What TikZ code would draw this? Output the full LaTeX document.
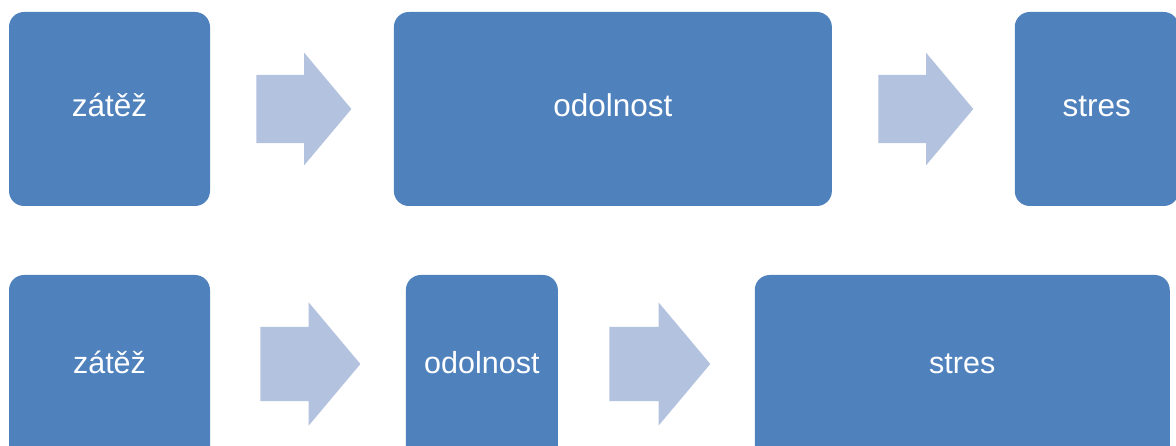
\documentclass[tikz,border=0pt]{standalone}
\usepackage{fontspec}
\setmainfont{Liberation Sans}
\usetikzlibrary{shapes.arrows, positioning}
\definecolor{boxblue}{RGB}{79,129,189}
\definecolor{arrowblue}{RGB}{179,194,222}
\tikzset{
  block/.style={rectangle, fill=boxblue, draw=none, rounded corners=15pt,
                minimum height=194pt, inner sep=0pt, text=white,
                text height=22pt, text depth=6pt,
                font=\fontsize{31.5}{36}\selectfont},
  lowblock/.style={block, minimum height=186pt,
                   text height=19pt, text depth=9pt,
                   font=\fontsize{30.5}{35}\selectfont},
  fatarrow/.style={single arrow, fill=arrowblue, draw=none,
                   inner xsep=0pt, inner ysep=34pt,
                   minimum height=95pt, single arrow tip angle=100,
                   single arrow head extend=22pt}
}
\begin{document}
\begin{tikzpicture}[x=1pt, y=1pt]
  \useasboundingbox (0,0) rectangle (1176,445);
  \clip (0,0) rectangle (1176,445);

  % first row
  \node[block, minimum width=201pt] (load1) at (109.5,336) {zátěž};
  \node[fatarrow, right=46pt of load1] (arr1) {};
  \node[block, minimum width=438pt, right=42pt of arr1] (res1) {odolnost};
  \node[fatarrow, right=46pt of res1] (arr2) {};
  \node[block, minimum width=164pt, right=41pt of arr2] (stress1) {stres};

  % second row
  \node[lowblock, minimum width=201pt] (load2) at (109.5,77) {zátěž};
  \node[fatarrow, minimum height=100pt, inner ysep=37pt,
        single arrow head extend=24.5pt, right=50pt of load2, yshift=4pt] (arr3) {};
  \node[lowblock, minimum width=152pt, right=45pt of arr3, yshift=-4pt] (res2) {odolnost};
  \node[fatarrow, minimum height=101pt, inner ysep=37pt,
        single arrow head extend=24.5pt, right=51pt of res2, yshift=4pt] (arr4) {};
  \node[lowblock, minimum width=415pt, right=44pt of arr4, yshift=-4pt] (stress2) {stres};

\end{tikzpicture}
\end{document}
